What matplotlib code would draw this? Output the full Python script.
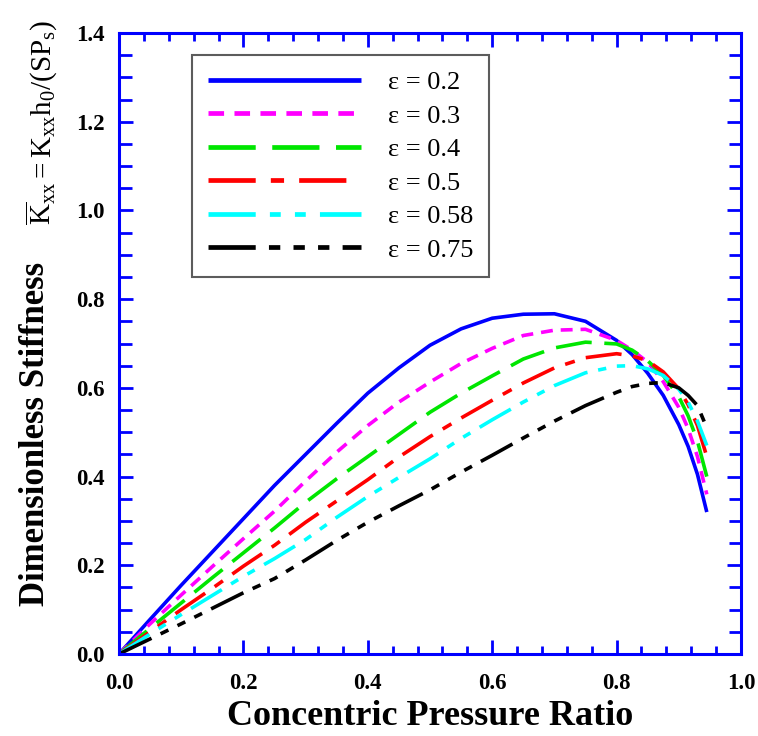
import matplotlib
matplotlib.use("Agg")
import matplotlib.pyplot as plt
from matplotlib.ticker import MultipleLocator

plt.rcParams['font.family'] = ['Liberation Serif', 'DejaVu Serif']
plt.rcParams['mathtext.fontset'] = 'custom'
plt.rcParams['mathtext.rm'] = 'Liberation Serif'
plt.rcParams['mathtext.it'] = 'Liberation Serif:italic'
plt.rcParams['mathtext.default'] = 'rm'

# ---- data ----
pressure_ratio = [0, 0.05, 0.1, 0.15, 0.2, 0.25, 0.3, 0.35, 0.4, 0.45, 0.5, 0.55,
                  0.6, 0.65, 0.7, 0.75, 0.8, 0.825, 0.85, 0.875, 0.9, 0.915, 0.93, 0.945]
k_eps_020 = [0, 0.078, 0.155, 0.23, 0.305, 0.38, 0.45, 0.52, 0.588, 0.645, 0.696, 0.733,
             0.757, 0.766, 0.767, 0.75, 0.707, 0.675, 0.633, 0.583, 0.517, 0.468, 0.405, 0.32]
k_eps_030 = [0, 0.068, 0.133, 0.197, 0.26, 0.322, 0.39, 0.455, 0.515, 0.568, 0.613, 0.655,
             0.689, 0.718, 0.73, 0.732, 0.707, 0.685, 0.658, 0.614, 0.556, 0.508, 0.445, 0.36]
k_eps_040 = [0, 0.058, 0.115, 0.172, 0.228, 0.284, 0.342, 0.395, 0.445, 0.495, 0.545, 0.588,
             0.627, 0.665, 0.69, 0.703, 0.699, 0.685, 0.661, 0.628, 0.58, 0.537, 0.48, 0.40]
k_eps_050 = [0, 0.05, 0.1, 0.148, 0.198, 0.245, 0.297, 0.345, 0.393, 0.444, 0.49, 0.532,
             0.572, 0.611, 0.645, 0.668, 0.677, 0.672, 0.661, 0.636, 0.598, 0.562, 0.515, 0.445]
k_eps_058 = [0, 0.045, 0.089, 0.132, 0.175, 0.215, 0.258, 0.308, 0.355, 0.398, 0.44, 0.486,
             0.528, 0.568, 0.605, 0.634, 0.649, 0.65, 0.643, 0.628, 0.597, 0.568, 0.525, 0.47]
k_eps_075 = [0, 0.034, 0.068, 0.103, 0.138, 0.17, 0.212, 0.256, 0.297, 0.334, 0.37, 0.41,
             0.448, 0.487, 0.525, 0.56, 0.59, 0.603, 0.61, 0.612, 0.60, 0.583, 0.56, 0.51]
labels = ['ε = 0.2', 'ε = 0.3', 'ε = 0.4', 'ε = 0.5', 'ε = 0.58', 'ε = 0.75']
series = [k_eps_020, k_eps_030, k_eps_040, k_eps_050, k_eps_058, k_eps_075]
x_ticks = [0.0, 0.2, 0.4, 0.6, 0.8, 1.0]
y_ticks = [0.0, 0.2, 0.4, 0.6, 0.8, 1.0, 1.2, 1.4]

colors = ['#0000FF', '#FF00FF', '#00E600', '#FF0000', '#00FFFF', '#000000']
dashes = [None,
          (3.3, 2.2),
          (10, 3.5),
          (10, 3.2, 2.8, 3.2),
          (10, 3.0, 2.3, 3.0, 2.3, 3.0),
          (10, 2.8, 2.4, 2.8, 2.4, 2.8, 2.4, 2.8)]

fig = plt.figure(figsize=(7.58, 7.36), dpi=100)
ax = fig.add_axes([119 / 758, 1 - 654 / 736, 622 / 758, 621 / 736])

for ys, lab, c, d in zip(series, labels, colors, dashes):
    line, = ax.plot(pressure_ratio, ys, color=c, lw=2.6, label=lab,
                    solid_capstyle='butt', dash_capstyle='butt',
                    solid_joinstyle='round', dash_joinstyle='round')
    if d is not None:
        line.set_dashes(d)

ax.set_xlim(0, 1.0)
ax.set_ylim(0, 1.4)
ax.set_xticks(x_ticks)
ax.set_yticks(y_ticks)
ax.xaxis.set_minor_locator(MultipleLocator(0.04))
ax.yaxis.set_minor_locator(MultipleLocator(0.05))
ax.set_xticklabels([f'{v:.1f}' for v in x_ticks], fontsize=16.5, fontweight='bold')
ax.set_yticklabels([f'{v:.1f}' for v in y_ticks], fontsize=16.5, fontweight='bold')

for s in ax.spines.values():
    s.set_color('#0000FF')
    s.set_linewidth(2.2)
ax.tick_params(axis='both', which='both', direction='in', color='#0000FF',
               width=2.0, top=True, right=True)
ax.tick_params(axis='x', which='major', length=10, pad=14)
ax.tick_params(axis='x', which='minor', length=6)
ax.tick_params(axis='y', which='major', length=10, pad=10)
ax.tick_params(axis='y', which='minor', length=9)

ax.set_xlabel('Concentric Pressure Ratio', fontsize=26, fontweight='bold', labelpad=4)

ax.text(-0.135, 0.355, 'Dimensionless Stiffness', transform=ax.transAxes,
        rotation=90, fontsize=25, fontweight='bold', ha='center', va='center')
ax.text(-0.125, 0.855,
        r'$\overline{\mathrm{K}}_{\mathrm{xx}}=\mathrm{K}_{\mathrm{xx}}\mathrm{h}_0/(\mathrm{SP}_{\mathrm{s}})$',
        transform=ax.transAxes, rotation=90, fontsize=21, ha='center', va='center')

leg = ax.legend(loc='upper left', bbox_to_anchor=(0.118, 0.965), borderaxespad=0,
                fontsize=19, handlelength=5.8, handletextpad=1.0,
                labelspacing=0.38, borderpad=0.6, fancybox=False, frameon=True)
leg.get_frame().set_edgecolor('#333333')
leg.get_frame().set_linewidth(1.5)
for hl in leg.get_lines():
    hl.set_linewidth(3.4)

fig.savefig('out.png', dpi=100)
